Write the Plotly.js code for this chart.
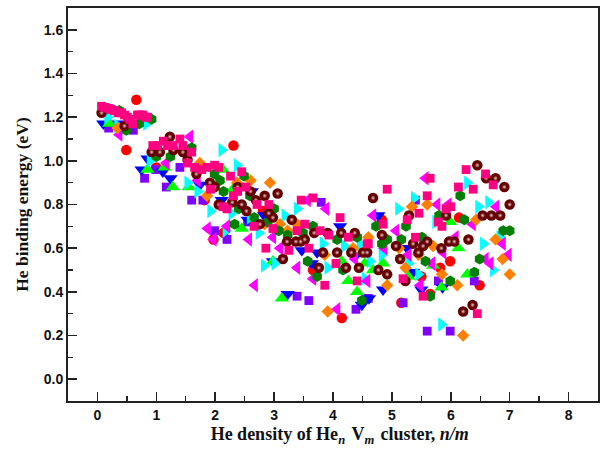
<!DOCTYPE html>
<html><head><meta charset="utf-8">
<script src="https://cdn.plot.ly/plotly-3.0.1.min.js"></script>
<style>html,body{margin:0;padding:0;background:#fff}#c{width:603px;height:450px}</style>
</head><body><div id="c"></div>
<script>
const redX=[0.66,0.49,2.31,1.0,1.82,1.97,2.14,2.81,3.66,4.15,4.83,5.16,6.14,5.99,5.82,5.65,6.49,5.5];
const redY=[1.28,1.05,1.07,0.97,0.82,0.64,0.67,0.77,0.50,0.28,0.73,0.35,0.74,0.54,0.51,0.39,0.43,0.47];
const purpleX=[0.19,0.61,0.80,0.99,1.17,1.40,1.6,1.79,1.99,2.55,2.2,3.80,3.39,3.59,4.39,4.6,5.4,5.79,6.4,5.6,5.99,5.19];
const purpleY=[1.15,1.14,0.92,0.96,0.88,0.97,0.82,0.82,0.68,0.72,0.64,0.81,0.38,0.36,0.32,0.37,0.82,0.45,0.45,0.22,0.22,0.35];
const blueX=[0.10,0.32,0.75,1.11,1.24,0.85,1.74,2.11,2.55,2.62,2.83,3.47,3.73,4.12,3.64,3.23,2.98,4.61,4.77,4.37,4.49,4.85,5.26,5.36,5.5,5.86];
const blueY=[1.17,1.17,0.96,0.95,0.92,1.01,0.89,0.82,0.73,0.86,0.75,0.59,0.58,0.70,0.53,0.39,0.54,0.37,0.75,0.56,0.34,0.41,0.60,0.49,0.41,0.42];
const greenX=[0.2,0.85,1.14,1.28,1.55,2.13,2.30,2.45,3.13,2.98,4.26,4.41,4.15,4.68,4.54,4.85,5.28,5.70,5.99,6.13,6.28,5.84];
const greenY=[1.17,0.96,0.97,0.88,0.88,0.96,0.87,0.69,0.37,0.54,0.45,0.40,0.54,0.50,0.53,0.53,0.47,0.52,0.72,0.60,0.48,0.42];
const cyanX=[0.17,0.34,0.83,0.89,1.53,1.70,2.11,2.37,1.92,2.28,3.18,3.39,2.59,2.18,2.74,2.83,3.01,3.91,3.83,4.19,4.54,4.46,4.63,4.83,5.11,5.38,5.28,5.45,5.74,6.28,6.47,6.64,6.55,6.83,6.72,5.84];
const cyanY=[1.20,1.16,1.17,1.0,0.90,0.86,1.05,0.98,0.77,0.76,0.75,0.78,0.74,0.68,0.67,0.52,0.53,0.51,0.62,0.61,0.46,0.62,0.54,0.57,0.78,0.83,0.53,0.48,0.72,0.90,0.79,0.81,0.62,0.65,0.50,0.25];
const magentaX=[0.37,1.57,1.87,2.2,1.17,1.70,1.97,2.57,2.98,3.10,2.67,3.39,3.66,3.57,3.88,4.37,4.07,4.68,4.58,4.87,5.07,5.28,5.48,5.57,5.77,5.68,5.96,5.87,6.08,6.37,6.59,6.67,6.77,6.88,6.98];
const magentaY=[1.12,1.11,0.69,0.70,0.99,0.91,0.64,0.64,0.65,0.60,0.43,0.51,0.46,0.82,0.78,0.55,0.32,0.75,0.45,0.60,0.68,0.57,0.43,0.92,0.80,0.53,0.80,0.58,0.65,0.71,0.55,0.53,0.79,0.62,0.57];
const orangeX=[0.34,1.74,1.86,2.37,2.6,2.93,3.10,3.23,2.84,3.39,3.91,3.86,4.34,4.6,4.92,5.12,5.23,5.34,5.45,5.6,5.70,5.85,6.11,6.21,6.43,6.76,6.88,7.0];
const orangeY=[1.15,0.99,0.84,0.90,0.91,0.90,0.71,0.68,0.71,0.71,0.31,0.57,0.60,0.65,0.43,0.60,0.51,0.79,0.57,0.80,0.61,0.48,0.43,0.20,0.73,0.64,0.55,0.48];
const hexX=[0.49,0.92,0.37,0.71,1.0,1.24,1.6,1.99,2.08,2.14,2.49,2.59,2.66,2.33,2.40,3.0,2.89,3.08,3.23,3.49,3.66,4.07,4.41,3.57,3.73,4.17,4.49,4.73,4.92,4.83,5.16,5.24,5.8,5.51,5.57,5.65,5.99,6.40,6.49,6.16,6.23,6.89,7.0];
const hexY=[1.14,1.19,1.23,1.17,1.02,1.02,1.06,0.94,0.91,0.86,0.93,0.84,0.74,0.71,0.78,0.78,0.72,0.68,0.66,0.67,0.70,0.64,0.65,0.54,0.47,0.50,0.36,0.70,0.64,0.62,0.64,0.70,0.75,0.65,0.54,0.38,0.45,0.49,0.55,0.84,0.73,0.68,0.68];
const sphereX=[0.07,0.46,1.23,0.92,1.06,1.29,1.45,1.53,1.68,1.91,1.99,2.38,2.6,2.06,2.29,2.45,2.53,2.69,2.84,3.06,2.91,2.98,2.76,3.30,3.22,3.37,3.45,3.52,3.68,3.91,4.14,4.37,3.15,3.83,4.07,4.31,4.51,4.58,3.76,4.22,4.44,4.68,4.77,4.92,4.83,5.07,5.14,5.29,5.36,5.45,5.53,5.60,5.84,5.97,6.06,6.30,5.92,6.54,6.69,6.84,7.0,6.91,6.76,6.6,6.45,6.37,6.21,5.23];
const sphereY=[1.22,1.16,1.11,1.04,1.04,1.05,1.04,1.005,0.94,0.90,0.88,0.88,0.86,0.80,0.81,0.80,0.77,0.82,0.84,0.85,0.76,0.74,0.71,0.73,0.63,0.63,0.63,0.64,0.67,0.67,0.67,0.67,0.55,0.58,0.58,0.58,0.58,0.58,0.51,0.51,0.51,0.83,0.50,0.48,0.66,0.61,0.55,0.75,0.62,0.58,0.61,0.63,0.60,0.63,0.63,0.64,0.75,0.75,0.75,0.75,0.80,0.88,0.92,0.92,0.98,0.34,0.31,0.45];
const pinkX=[0.07,0.13,0.19,0.24,0.29,0.35,0.41,0.46,0.51,0.55,0.60,0.68,0.72,0.77,0.81,0.85,0.94,1.02,1.12,1.19,1.28,1.40,1.45,1.60,1.53,1.65,1.77,1.86,1.99,2.06,2.26,2.45,2.52,1.92,2.38,2.31,2.71,2.13,2.2,2.66,2.91,2.98,2.86,3.25,3.59,3.39,3.52,3.46,3.66,3.78,3.93,4.12,4.26,4.05,4.41,3.86,4.58,4.92,4.85,4.6,5.46,5.26,5.40,5.6,5.65,5.19,5.53,5.79,5.85,5.92,6.0,6.13,6.26,6.38,6.59,6.72,6.45];
const pinkY=[1.25,1.245,1.24,1.235,1.23,1.22,1.22,1.21,1.20,1.19,1.17,1.21,1.21,1.21,1.20,1.20,1.07,1.07,1.09,1.07,1.07,1.10,1.07,1.04,0.99,0.97,0.96,0.97,0.98,0.97,0.93,0.95,0.88,0.87,0.86,0.84,0.80,0.79,0.78,0.70,0.80,0.69,0.60,0.59,0.60,0.68,0.71,0.82,0.83,0.68,0.66,0.74,0.65,0.53,0.45,0.43,0.62,0.87,0.71,0.62,0.76,0.73,0.65,0.84,0.92,0.46,0.38,0.72,0.70,0.78,0.79,0.88,0.96,0.87,0.94,0.89,0.30];
const xTickVals=[0,1,2,3,4,5,6,7,8];
const yTickVals=[0,0.2,0.4,0.6,0.8,1.0,1.2,1.4,1.6];
const xLabel='&nbsp;&nbsp;&nbsp;He density of He<sub><i>n  </i></sub>V<sub><i>m  </i></sub>cluster, <i>n/m</i>';
const yLabel='He binding energy (eV)';

const S=(x,y,symbol,color,size,extra)=>({x,y,type:'scatter',mode:'markers',showlegend:false,cliponaxis:false,
  marker:Object.assign({symbol,color,size,line:{width:0}},extra||{})});
const data=[
  S(redX,redY,'circle','#ff0000',10.5),
  S(purpleX,purpleY,'square','#8000ff',8.8),
  S(blueX,blueY,'triangle-down','#0000ff',12.5),
  S(greenX,greenY,'triangle-up','#00ff00',12.5),
  S(cyanX,cyanY,'triangle-right','#00ffff',12.5),
  S(magentaX,magentaY,'triangle-left','#ff00ff',12.5),
  S(orangeX,orangeY,'diamond','#ff8000',9.5),
  S(hexX,hexY,'hexagon','#007f00',11),
  S(sphereX,sphereY,'circle','#660000',10.5),
  S(sphereX,sphereY,'circle','#660000',5,{gradient:{type:'radial',color:'#e8c8c8'}}),
  S(pinkX,pinkY,'square','#ff0080',8.8)
];
const tickFont={family:'Liberation Sans, Arial, sans-serif',size:14,color:'#111'};
const axis={showgrid:false,zeroline:false,showline:true,linecolor:'#222',linewidth:2,mirror:true,
  ticks:'inside',ticklen:9,tickwidth:1.6,tickcolor:'#222',tickfont:tickFont};
const layout={width:603,height:450,paper_bgcolor:'#fff',plot_bgcolor:'#fff',
  margin:{l:68,r:5,t:8,b:49},
  xaxis:Object.assign({},axis,{range:[-0.5,8.5],tickmode:'array',tickvals:xTickVals,ticktext:xTickVals.map(v=>'<b>'+v+'</b>'),
    minor:{dtick:0.5,ticks:'inside',ticklen:5,tickwidth:1.4,tickcolor:'#222',showgrid:false},
    title:{text:'<b>'+xLabel+'</b>',font:{family:'Liberation Serif, Times New Roman, serif',size:18,color:'#111'},standoff:6}}),
  yaxis:Object.assign({},axis,{range:[-0.1,1.7],tickmode:'array',tickvals:yTickVals,ticktext:yTickVals.map(v=>'<b>'+v.toFixed(1)+'</b>'),
    minor:{dtick:0.1,ticks:'inside',ticklen:5,tickwidth:1.4,tickcolor:'#222',showgrid:false},
    title:{text:'<b>'+yLabel+'</b>',font:{family:'Liberation Serif, Times New Roman, serif',size:17.5,color:'#111'},standoff:11}})
};
Plotly.newPlot('c',data,layout,{displayModeBar:false,staticPlot:true});
</script></body></html>
